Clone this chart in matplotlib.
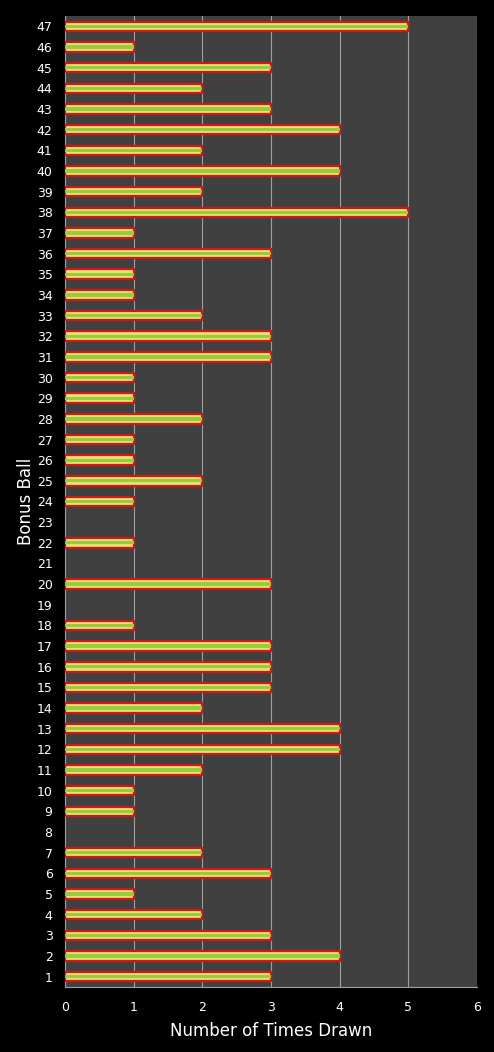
import numpy as np
import matplotlib.pyplot as plt

# Bonus ball number and how many times it was drawn
bolas = list(range(1, 48))
veces = [3, 4, 3, 2, 1, 3, 2, 0, 1, 1,
         2, 4, 4, 2, 3, 3, 3, 1, 0, 3,
         0, 1, 0, 1, 2, 1, 1, 2, 1, 1,
         3, 3, 2, 1, 1, 3, 1, 5, 2, 4,
         2, 4, 3, 2, 3, 1, 5]
ticks_x = [0, 1, 2, 3, 4, 5, 6]

fig = plt.figure(figsize=(4.94, 10.52), dpi=100, facecolor='black')
ax = fig.add_axes([0.1316, 0.0618, 0.8340, 0.9230])
ax.set_facecolor('#404040')

y = np.array(bolas)
# sin borde en las bolas que no han salido nunca
bordes = ['#d01818' if v > 0 else 'none' for v in veces]
# borde rojo + relleno amarillo + centro verde para imitar el degradado
ax.barh(y, veces, height=0.46, color='#e6e070', edgecolor=bordes,
        linewidth=1.6, zorder=3)
ax.barh(y, veces, height=0.16, color='#98cc3c', linewidth=0, zorder=4)

ax.set_xlim(0, 6)
ax.set_ylim(0.5, 47.5)
ax.set_xticks(ticks_x)
ax.set_yticks(y, [str(b) for b in bolas])
ax.grid(axis='x', color='#a0a0a0', linewidth=0.8, zorder=1)
ax.set_axisbelow(True)

for lado in ['top', 'right']:
    ax.spines[lado].set_visible(False)
for lado in ['left', 'bottom']:
    ax.spines[lado].set_color('#a0a0a0')

ax.tick_params(axis='both', colors='white', labelsize=9, length=0)
ax.tick_params(axis='x', pad=10)
ax.tick_params(axis='y', pad=9)
ax.set_xlabel('Number of Times Drawn', color='white', fontsize=12, labelpad=6)
ax.set_ylabel('Bonus Ball', color='white', fontsize=12)
ax.yaxis.set_label_coords(-0.073, 0.5)

fig.savefig('out.png', dpi=100, facecolor='black')
